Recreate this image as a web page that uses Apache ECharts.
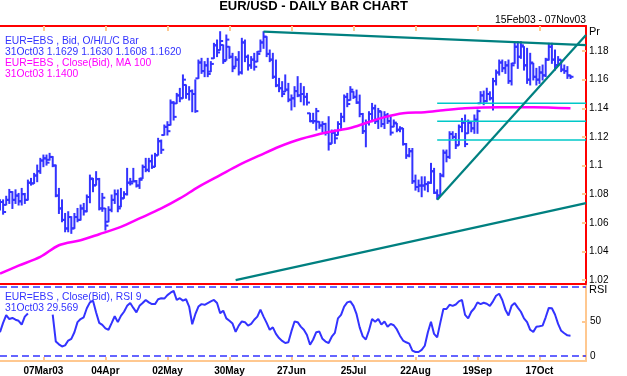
<!DOCTYPE html>
<html><head><meta charset="utf-8">
<script src="https://cdn.jsdelivr.net/npm/echarts@6/dist/echarts.min.js"></script>
<style>html,body{margin:0;padding:0;background:#fff}#c{width:627px;height:376px}</style>
</head><body><div id="c"></div>
<script>
// ---- data ----
const openP = [1.0725,1.0745,1.0725,1.0760,1.0815,1.0760,1.0790,1.0750,1.0800,1.0760,
1.0880,1.0875,1.0930,1.0960,1.1035,1.1050,1.1040,1.1060,1.1000,1.0790,
1.0700,1.0620,1.0560,1.0640,1.0561,1.0640,1.0620,1.0700,1.0680,1.0780,
1.0905,1.0863,1.0905,1.0700,1.0700,1.0607,1.0690,1.0760,1.0800,1.0712,
1.0771,1.0800,1.0880,1.0887,1.0890,1.0860,1.0910,1.0990,1.0970,1.1030,
1.0992,1.1073,1.1170,1.1213,1.1270,1.1283,1.1440,1.1434,1.1490,1.1470,
1.1563,1.1500,1.1520,1.1500,1.1609,1.1720,1.1660,1.1700,1.1656,1.1749,
1.1840,1.1807,1.1842,1.1737,1.1830,1.1760,1.1691,1.1740,1.1650,1.1860,
1.1760,1.1700,1.1740,1.1726,1.1796,1.1860,1.1900,1.1780,1.1740,1.1620,
1.1560,1.1540,1.1516,1.1530,1.1460,1.1470,1.1520,1.1490,1.1500,1.1480,
1.1365,1.1310,1.1310,1.1306,1.1280,1.1290,1.1230,1.1155,1.1230,1.1213,
1.1290,1.1340,1.1480,1.1457,1.1516,1.1480,1.1440,1.1360,1.1240,1.1300,
1.1360,1.1400,1.1310,1.1376,1.1290,1.1350,1.1310,1.1271,1.1294,1.1250,
1.1259,1.1150,1.1070,1.1100,1.0890,1.0850,1.0860,1.0860,1.0870,1.0880,
1.0960,1.0810,1.0790,1.0930,1.1090,1.1060,1.1220,1.1200,1.1143,1.1270,
1.1300,1.1225,1.1300,1.1260,1.1320,1.1435,1.1490,1.1450,1.1500,1.1470,
1.1590,1.1650,1.1720,1.1680,1.1700,1.1590,1.1714,1.1830,1.1760,1.1831,
1.1700,1.1600,1.1714,1.1620,1.1600,1.1650,1.1630,1.1740,1.1830,1.1740,
1.1702,1.1737,1.1670,1.1660,1.1629];
const highP = [1.0760,1.0760,1.0785,1.0833,1.0817,1.0830,1.0805,1.0840,1.0805,1.0898,
1.0910,1.0945,1.1003,1.1050,1.1073,1.1073,1.1085,1.1062,1.1003,1.0840,
1.0760,1.0665,1.0677,1.0642,1.0665,1.0700,1.0724,1.0735,1.0794,1.0933,
1.0910,1.0957,1.0910,1.0805,1.0700,1.0712,1.0794,1.0829,1.0829,1.0840,
1.0817,1.0980,1.0910,1.0980,1.0895,1.0910,1.1003,1.1050,1.1050,1.1073,
1.1085,1.1190,1.1178,1.1283,1.1306,1.1458,1.1446,1.1504,1.1539,1.1633,
1.1563,1.1551,1.1528,1.1598,1.1737,1.1749,1.1726,1.1749,1.1726,1.1854,
1.1877,1.1935,1.1842,1.1912,1.1830,1.1784,1.1761,1.1796,1.1889,1.1877,
1.1772,1.1761,1.1784,1.1796,1.1877,1.1935,1.1900,1.1807,1.1784,1.1737,
1.1609,1.1586,1.1633,1.1574,1.1493,1.1551,1.1621,1.1574,1.1551,1.1504,
1.1365,1.1365,1.1399,1.1306,1.1306,1.1295,1.1341,1.1248,1.1248,1.1306,
1.1365,1.1493,1.1504,1.1551,1.1516,1.1527,1.1492,1.1364,1.1318,1.1376,
1.1434,1.1422,1.1399,1.1376,1.1376,1.1364,1.1341,1.1318,1.1294,1.1271,
1.1259,1.1154,1.1119,1.1119,1.0933,1.0898,1.0921,1.0921,1.0886,1.1015,
1.0980,1.0830,1.0945,1.1108,1.1108,1.1236,1.1236,1.1224,1.1283,1.1329,
1.1353,1.1318,1.1306,1.1353,1.1388,1.1516,1.1520,1.1540,1.1515,1.1609,
1.1667,1.1737,1.1737,1.1726,1.1737,1.1714,1.1854,1.1865,1.1865,1.1831,
1.1819,1.1784,1.1714,1.1679,1.1691,1.1702,1.1749,1.1854,1.1854,1.1807,
1.1761,1.1737,1.1702,1.1691,1.1630];
const lowP = [1.0690,1.0660,1.0725,1.0735,1.0700,1.0735,1.0724,1.0724,1.0735,1.0759,
1.0863,1.0875,1.0887,1.0945,1.0992,1.1003,1.1038,1.0992,1.0782,1.0665,
1.0607,1.0537,1.0537,1.0526,1.0561,1.0607,1.0619,1.0654,1.0677,1.0740,
1.0817,1.0863,1.0690,1.0680,1.0549,1.0607,1.0677,1.0735,1.0677,1.0712,
1.0771,1.0794,1.0864,1.0887,1.0850,1.0840,1.0910,1.0957,1.0957,1.0980,
1.0992,1.1073,1.1085,1.1213,1.1213,1.1283,1.1318,1.1434,1.1446,1.1470,
1.1470,1.1458,1.1376,1.1372,1.1609,1.1644,1.1621,1.1621,1.1656,1.1749,
1.1761,1.1807,1.1714,1.1737,1.1749,1.1656,1.1691,1.1633,1.1640,1.1726,
1.1667,1.1679,1.1667,1.1726,1.1796,1.1819,1.1761,1.1726,1.1609,1.1551,
1.1516,1.1481,1.1516,1.1446,1.1388,1.1411,1.1481,1.1446,1.1423,1.1423,
1.1306,1.1295,1.1248,1.1260,1.1236,1.1213,1.1108,1.1155,1.1155,1.1213,
1.1260,1.1306,1.1411,1.1457,1.1469,1.1434,1.1341,1.1224,1.1131,1.1283,
1.1306,1.1294,1.1259,1.1271,1.1259,1.1294,1.1213,1.1271,1.1236,1.1236,
1.1143,1.1050,1.1061,1.0875,1.0828,1.0817,1.0782,1.0828,1.0817,1.0875,
1.0805,1.0765,1.0790,1.0921,1.1026,1.1050,1.1189,1.1119,1.1143,1.1236,
1.1132,1.1225,1.1236,1.1225,1.1225,1.1435,1.1425,1.1445,1.1458,1.1388,
1.1563,1.1632,1.1656,1.1644,1.1574,1.1563,1.1714,1.1679,1.1749,1.1667,
1.1574,1.1563,1.1598,1.1563,1.1574,1.1598,1.1621,1.1737,1.1714,1.1667,
1.1702,1.1656,1.1644,1.1609,1.1608];
const closeP = [1.0745,1.0675,1.0760,1.0815,1.0760,1.0790,1.0750,1.0800,1.0760,1.0880,
1.0875,1.0930,1.0960,1.1035,1.1050,1.1020,1.1060,1.1000,1.0790,1.0700,
1.0620,1.0560,1.0640,1.0560,1.0640,1.0620,1.0700,1.0680,1.0780,1.0910,
1.0860,1.0905,1.0700,1.0775,1.0580,1.0690,1.0760,1.0800,1.0700,1.0770,
1.0800,1.0880,1.0875,1.0890,1.0860,1.0900,1.0990,1.0970,1.1030,1.0990,
1.1070,1.1170,1.1110,1.1270,1.1240,1.1440,1.1340,1.1490,1.1470,1.1600,
1.1500,1.1520,1.1500,1.1380,1.1720,1.1660,1.1700,1.1640,1.1710,1.1840,
1.1790,1.1870,1.1730,1.1880,1.1760,1.1680,1.1740,1.1650,1.1860,1.1760,
1.1700,1.1740,1.1690,1.1780,1.1860,1.1900,1.1780,1.1740,1.1620,1.1560,
1.1540,1.1500,1.1530,1.1460,1.1470,1.1520,1.1490,1.1500,1.1480,1.1440,
1.1310,1.1310,1.1380,1.1280,1.1290,1.1230,1.1150,1.1230,1.1190,1.1290,
1.1340,1.1480,1.1430,1.1530,1.1480,1.1440,1.1360,1.1240,1.1300,1.1360,
1.1400,1.1310,1.1380,1.1290,1.1350,1.1310,1.1230,1.1300,1.1250,1.1260,
1.1150,1.1070,1.1100,1.0890,1.0850,1.0860,1.0860,1.0870,1.0880,1.0960,
1.0810,1.0790,1.0930,1.1090,1.1060,1.1220,1.1200,1.1140,1.1270,1.1300,
1.1150,1.1300,1.1260,1.1320,1.1380,1.1490,1.1450,1.1500,1.1470,1.1590,
1.1650,1.1720,1.1680,1.1700,1.1590,1.1700,1.1830,1.1760,1.1840,1.1700,
1.1600,1.1720,1.1620,1.1600,1.1650,1.1630,1.1740,1.1830,1.1740,1.1700,
1.1740,1.1670,1.1660,1.1630,1.1620];
// 100-day moving average, [day index, value]
const maPoints = [[0,1.0245],[6,1.0300],[13,1.0361],[19,1.0443],[26,1.0478],[32,1.0520],
[39,1.0571],[45,1.0630],[52,1.0700],[58,1.0770],[64,1.0851],[71,1.0933],[77,1.1003],
[84,1.1073],[90,1.1131],[97,1.1185],[106,1.1234],[113,1.1262],[118,1.1297],[124,1.1338],
[130,1.1366],[137,1.1373],[143,1.1387],[150,1.1401],[161,1.1408],[172,1.1408],[184,1.1400]];
const rsiValues = [34.5,48,59,53.5,55,52.5,51,45.5,57,61.5,
null,null,null,null,null,null,null,60,21,17,
14,15.5,22.5,25,34.5,49,53.5,56,69,77.5,
80,63,48,45,40,38,47.5,57.5,49,58,
64,72.5,76.5,69.5,63,72.5,76.5,81,77.5,75,
75,82,83.5,83,88,91.5,94,81,83.5,80,
82,71.5,46,60.5,71.5,75,74,76.5,79,81,
76.5,62,65.5,54.5,51,47,35,44,50,49,
44,46.5,52.5,57,67,57,48,38,41.5,32,
26,22,19,20,36,50,49,42.5,38,30.5,
16.5,24,34.5,35.5,25,21,19,28,33.5,54.5,
59.5,71.5,77.5,79,72.5,60.5,41.5,28.5,24,37,
53.5,49.5,53.5,45.5,50,42.5,46.5,44.5,38.5,29.5,
22.5,20,18,8,6,6,9,15,34.5,49.5,
32,27,48,68,68,74,72.5,74.5,79,81,
59.5,54.5,64,69,77.5,75,77,75.5,72.5,79,
87,90,81,67,58.5,72.5,76.5,70,64,54.5,
49,38,35,42.5,43,44,56,69.5,69,60,
46.5,36.5,33,30,29.569];
const tickIndex = [14,34,54,74,94,114,134,154,174];
const tickLabels = ['07Mar03','04Apr','02May','30May','27Jun','25Jul','22Aug','19Sep','17Oct'];
const priceTicks = [1.02,1.04,1.06,1.08,1.10,1.12,1.14,1.16,1.18];
const rsiTicks = [0,50,100];
const rsiLabelTicks = [0,50];
const trendTop = [[85,1.1935],[189,1.1842]];
const trendRise = [[141,1.0760],[189,1.1912]];
const trendLow = [[76,1.0199],[189,1.0737]];
const fibLevels = [1.1435,1.1310,1.1178];
const fibRange = [141,189];

// ---- weekday categories 17Feb03 .. 07Nov03 ----
const MON = ['Jan','Feb','Mar','Apr','May','Jun','Jul','Aug','Sep','Oct','Nov','Dec'];
const categories = [];
(function(){const d=new Date(Date.UTC(2003,1,17));
 while(categories.length<190){const w=d.getUTCDay();
  if(w!==0&&w!==6){const dd=d.getUTCDate();categories.push((dd<10?'0':'')+dd+MON[d.getUTCMonth()]+'03');}
  d.setUTCDate(d.getUTCDate()+1);}})();

const ohlc = openP.map((o,i)=>[i,o,highP[i],lowP[i],closeP[i]]);

const FONT = "'Liberation Sans', Arial, sans-serif";
const blue='#3333ff', magenta='#ff00ff', teal='#008080', cyan='#00c8c8', red='#ff0000', orange='#ffc890';
const tickFn = (i)=>tickIndex.indexOf(i)>=0;

function seg(data, color, width){
  return {type:'line', xAxisIndex:0, yAxisIndex:0, data:data, symbol:'none', silent:true,
    lineStyle:{color:color,width:width}, z:5};
}

const chart = echarts.init(document.getElementById('c'), null, {renderer:'canvas'});
const series = [
 {type:'custom', xAxisIndex:0, yAxisIndex:0, data:ohlc, clip:true, z:2,
  encode:{x:0,y:[1,2,3,4]},
  renderItem:function(params, api){
    const i=api.value(0);
    const h=api.coord([i,api.value(2)]), l=api.coord([i,api.value(3)]);
    const o=api.coord([i,api.value(1)]), c=api.coord([i,api.value(4)]);
    const st={stroke:blue,lineWidth:2};
    return {type:'group',children:[
      {type:'line',shape:{x1:h[0],y1:h[1]-0.5,x2:l[0],y2:l[1]+0.5},style:st},
      {type:'line',shape:{x1:o[0]-3,y1:o[1],x2:o[0],y2:o[1]},style:st},
      {type:'line',shape:{x1:c[0],y1:c[1],x2:c[0]+3,y2:c[1]},style:st}
    ]};
  }},
 {type:'line', xAxisIndex:0, yAxisIndex:0, data:maPoints, symbol:'none', smooth:0.3, silent:true,
  lineStyle:{color:magenta,width:2.5}, z:3}
];
fibLevels.forEach(v=>series.push(seg([[fibRange[0],v],[fibRange[1],v]], cyan, 1.5)));
series.push(seg(trendTop, teal, 2.2));
series.push(seg(trendRise, teal, 2.2));
series.push(seg(trendLow, teal, 2.2));
series.push({type:'line', xAxisIndex:2, yAxisIndex:1, data:rsiValues, symbol:'none', connectNulls:false, silent:true,
  lineStyle:{color:blue,width:2}, z:4,
  markLine:{silent:true, symbol:'none', label:{show:false}, animation:false,
    lineStyle:{color:blue,type:[7,4],width:1.5}, data:[{yAxis:0},{yAxis:100}]}});

const txt=(t,x,y,color,size,align,weight)=>({type:'text',x:x,y:y,silent:true,
  style:{text:t,fill:color,font:(weight||'normal')+' '+size+'px '+FONT,align:align||'left',verticalAlign:'middle'}});

chart.setOption({
 animation:false,
 backgroundColor:'#ffffff',
 grid:[{left:0,top:26,width:586,height:258},{left:0,top:284,width:586,height:78}],
 xAxis:[
  {gridIndex:0,type:'category',data:categories,boundaryGap:false,position:'top',
   axisLine:{onZero:false,lineStyle:{color:red,width:2}},
   axisTick:{show:true,inside:true,length:5,interval:tickFn,lineStyle:{color:orange,width:2}},
   axisLabel:{show:false},splitLine:{show:false}},
  {gridIndex:0,type:'category',data:categories,boundaryGap:false,position:'bottom',
   axisLine:{onZero:false,lineStyle:{color:red,width:2}},axisTick:{show:false},axisLabel:{show:false},splitLine:{show:false}},
  {gridIndex:1,type:'category',data:categories,boundaryGap:false,position:'bottom',
   axisLine:{onZero:false,lineStyle:{color:orange,width:2}},
   axisTick:{show:true,inside:true,length:4,interval:tickFn,lineStyle:{color:orange,width:2}},
   axisLabel:{interval:tickFn,formatter:(v,i)=>{const k=tickIndex.indexOf(i);return k>=0?tickLabels[k]:'';},
     color:'#000',fontSize:10,fontWeight:'bold',fontFamily:FONT,margin:5},
   splitLine:{show:false}}
 ],
 yAxis:[
  {gridIndex:0,type:'value',min:1.0172,max:1.1975,position:'right',
   axisLine:{show:true,onZero:false,lineStyle:{color:red,width:2}},
   axisTick:{show:true,inside:true,length:4,customValues:priceTicks,lineStyle:{color:orange,width:2}},
   axisLabel:{customValues:priceTicks,formatter:v=>String(Number(Number(v).toFixed(2))),color:'#000',fontSize:10,fontFamily:FONT,margin:3},
   splitLine:{show:false}},
  {gridIndex:1,type:'value',min:-7,max:104,position:'right',
   axisLine:{show:true,onZero:false,lineStyle:{color:orange,width:2}},
   axisTick:{show:true,inside:true,length:4,customValues:rsiTicks,lineStyle:{color:orange,width:2}},
   axisLabel:{customValues:rsiLabelTicks,color:'#000',fontSize:10,fontFamily:FONT,margin:4},
   splitLine:{show:false}}
 ],
 series:series,
 graphic:[
  txt('EUR/USD - DAILY BAR CHART',313.5,6,'#000',13,'center','bold'),
  txt('15Feb03 - 07Nov03',586,20,'#000',10.3,'right'),
  txt('Pr',589,32,'#000',11,'left'),
  txt('RSI',589,290,'#000',11,'left'),
  txt('EUR=EBS , Bid, O/H/L/C Bar',5,41,blue,10.3),
  txt('31Oct03 1.1629 1.1630 1.1608 1.1620',5,52,blue,10.3),
  txt('EUR=EBS , Close(Bid), MA 100',5,63,magenta,10.3),
  txt('31Oct03 1.1400',5,74,magenta,10.3),
  txt('EUR=EBS , Close(Bid), RSI 9',5,297,blue,10.3),
  txt('31Oct03 29.569',5,308,blue,10.3)
 ]
});
</script></body></html>
